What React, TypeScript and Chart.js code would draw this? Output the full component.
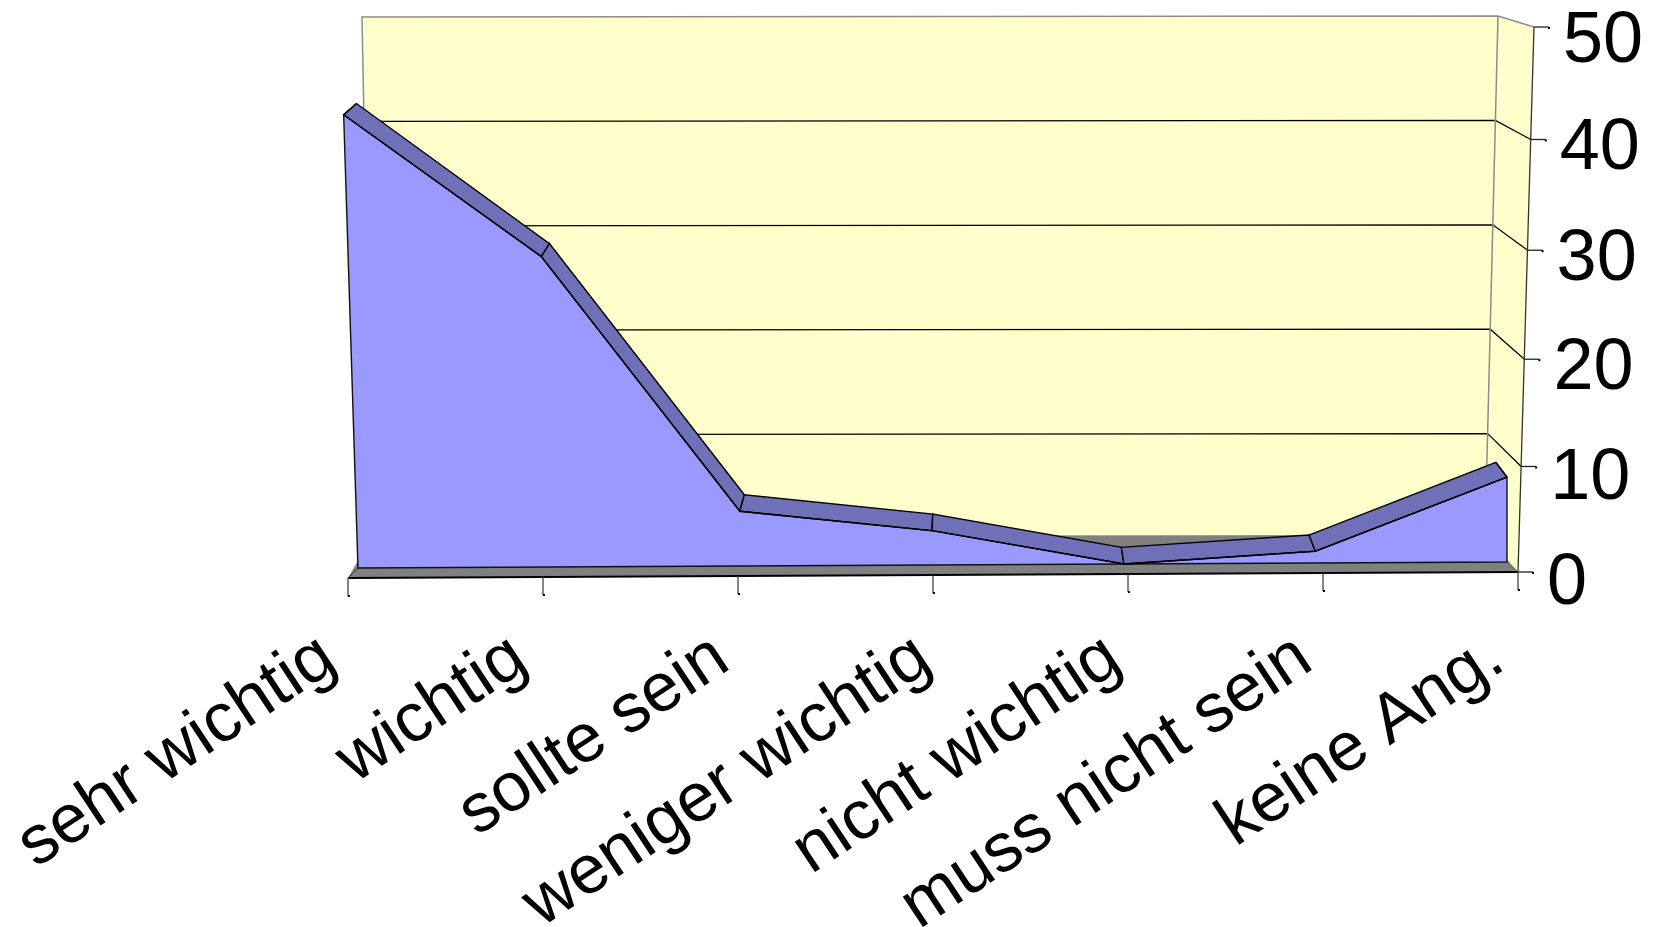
import React, { useEffect, useRef } from "react";
import { Chart, registerables } from "chart.js";

Chart.register(...registerables);

const categories = ["sehr wichtig", "wichtig", "sollte sein", "weniger wichtig", "nicht wichtig", "muss nicht sein", "keine Ang."];
const shareValues = [42.2, 28.9, 5.1, 3.2, 0, 1.1, 7.9];
const yTickStep = 10;
const yMax = 50;

type P = [number, number];
// Perspective planes: corners [t=0 v=0, t=1 v=0, t=0 v=max, t=1 v=max]
const PLANE_WALL: P[] = [[372, 539], [1485, 538], [362, 17], [1498, 16]];
const PLANE_AXIS: P[] = [[348, 578], [1518, 572], [332, 33], [1534, 27]];
const PLANE_FRONT: P[] = [[358, 568], [1507, 562], [341, 31], [1507, 25]];
const PLANE_BACK: P[] = [[370, 550], [1497, 546], [354, 21], [1490, 17]];

// The original's rotated labels do not sit at even offsets from their ticks.
const X_LABEL_SHIFT = [-11, -15, -8, -1, -6, -10, -13];
const Y_LABEL_SHIFT = [4, 5, 2, 2, 2, 7];

const WALL_COLOR = "#FFFFCC";
const AREA_COLOR = "#9999FF";
const BAND_COLOR = "#7070B8";
const FLOOR_COLOR = "#808080";
const EDGE_GREY = "#8c8c8c";
const FONT = "'Liberation Sans', Arial, sans-serif";

const project = (pl: P[], t: number, s: number): P => {
  const lerp = (a: P, b: P, k: number): P => [a[0] + (b[0] - a[0]) * k, a[1] + (b[1] - a[1]) * k];
  return lerp(lerp(pl[0], pl[1], t), lerp(pl[2], pl[3], t), s);
};

const poly = (ctx: CanvasRenderingContext2D, pts: P[], fill?: string, stroke?: string, w = 1.3, close = true) => {
  ctx.beginPath();
  pts.forEach((p, i) => (i ? ctx.lineTo(p[0], p[1]) : ctx.moveTo(p[0], p[1])));
  if (close) ctx.closePath();
  if (fill) {
    ctx.fillStyle = fill;
    ctx.fill();
  }
  if (stroke) {
    ctx.strokeStyle = stroke;
    ctx.lineWidth = w;
    ctx.stroke();
  }
};

const bow = (s: number) => 21.8 * s * (1 - s);

const scene = {
  id: "scene3d",
  afterDatasetsUpdate(chart: any) {
    const meta = chart.getDatasetMeta(0);
    const { x, y } = chart.scales;
    meta.data.forEach((pt: any, i: number) => {
      const t = (x.getPixelForValue(i) - x.left) / (x.right - x.left);
      const s = (y.bottom - y.getPixelForValue(shareValues[i])) / (y.bottom - y.top);
      const p = project(PLANE_FRONT, t, s);
      pt.x = p[0];
      pt.y = p[1];
    });
  },
  beforeDraw(chart: any) {
    const { x, y } = chart.scales;
    const yItems = y.getLabelItems();
    if (!yItems._moved) {
      yItems._moved = true;
      yItems.forEach((it: any, i: number) => {
        const s = y.ticks[i].value / yMax;
        it.options.translation[0] += 16 * s + 1;
        it.options.translation[1] += 8 + bow(s) + Y_LABEL_SHIFT[i];
      });
    }
    const xItems = x.getLabelItems();
    if (!xItems._moved) {
      xItems._moved = true;
      xItems.forEach((it: any, i: number) => {
        it.options.translation[0] += -8 + X_LABEL_SHIFT[i];
        it.options.translation[1] += 45;
      });
    }
  },
  beforeDatasetsDraw(chart: any) {
    const ctx: CanvasRenderingContext2D = chart.ctx;
    const { x, y } = chart.scales;
    const sOf = (v: number) => (y.bottom - y.getPixelForValue(v)) / (y.bottom - y.top);
    const axisPt = (v: number): P => {
      const s = sOf(v);
      const p = project(PLANE_AXIS, 1, s);
      return [p[0], p[1] + bow(s)];
    };
    const tOf = (i: number) => (x.getPixelForValue(i) - x.left) / (x.right - x.left);
    const last = categories.length - 1;

    // Back wall and side wall
    poly(ctx, [project(PLANE_WALL, 0, 0), project(PLANE_WALL, 1, 0), project(PLANE_WALL, 1, 1), project(PLANE_WALL, 0, 1)], WALL_COLOR);
    poly(ctx, [project(PLANE_WALL, 1, 0), axisPt(0), axisPt(yMax), project(PLANE_WALL, 1, 1)], WALL_COLOR);

    // Gridlines
    y.ticks.forEach((tk: any) => {
      if (tk.value === 0 || tk.value === yMax) return;
      const s = sOf(tk.value);
      poly(ctx, [project(PLANE_WALL, 0, s), project(PLANE_WALL, 1, s), axisPt(tk.value)], undefined, "#000", 1.3, false);
    });

    // Wall edges
    poly(ctx, [project(PLANE_WALL, 0, 0), project(PLANE_WALL, 0, 1), project(PLANE_WALL, 1, 1), axisPt(yMax)], undefined, EDGE_GREY, 1.5, false);
    poly(ctx, [project(PLANE_WALL, 1, 0), project(PLANE_WALL, 1, 1)], undefined, EDGE_GREY, 1.5, false);

    // Floor
    const floorBack = (t: number): P => {
      const p = project(PLANE_WALL, t, 0);
      return [p[0], p[1] - 3];
    };
    poly(ctx, [floorBack(0), floorBack(1), project(PLANE_AXIS, 1, 0), project(PLANE_AXIS, 0, 0)], FLOOR_COLOR);
    poly(ctx, [project(PLANE_AXIS, 0, 0), project(PLANE_AXIS, 1, 0)], undefined, "#000", 1.8, false);
    poly(ctx, [project(PLANE_FRONT, 0, 0), project(PLANE_AXIS, 0, 0)], undefined, "#333", 1, false);
    poly(ctx, [project(PLANE_FRONT, 1, 0), project(PLANE_AXIS, 1, 0)], undefined, "#666", 1, false);

    // Value axis line and tick marks
    poly(ctx, [axisPt(yMax), axisPt(0)], undefined, "#333", 1.3, false);
    y.ticks.forEach((tk: any) => {
      const p = axisPt(tk.value);
      poly(ctx, [p, [p[0] + 15, p[1]]], undefined, "#222", 1.3, false);
      ctx.fillStyle = "#000";
      ctx.fillRect(p[0] + 14, p[1], 2, 2);
    });

    // Category tick marks
    categories.forEach((_, i) => {
      const p = project(PLANE_AXIS, tOf(i), 0);
      poly(ctx, [p, [p[0], p[1] + 18]], undefined, "#444", 1.3, false);
      ctx.fillStyle = "#000";
      ctx.fillRect(p[0], p[1] + 17, 2, 2);
    });

    // Front of the area
    const front = categories.map((_, i) => project(PLANE_FRONT, tOf(i), sOf(shareValues[i])));
    const back = categories.map((_, i) => project(PLANE_BACK, tOf(i), sOf(shareValues[i])));
    poly(ctx, [project(PLANE_FRONT, 0, 0), ...front, project(PLANE_FRONT, 1, 0)], AREA_COLOR);
    poly(ctx, [front[0], project(PLANE_FRONT, 0, 0), project(PLANE_FRONT, 1, 0), front[last]], undefined, "#111", 1.4, false);

    // Depth band
    for (let i = 0; i < last; i++) {
      poly(ctx, [front[i], front[i + 1], back[i + 1], back[i]], BAND_COLOR, "#000", 1.4);
    }
    poly(ctx, [front[0], back[0]], undefined, "#000", 1.4, false);
    poly(ctx, [front[last], back[last]], undefined, "#000", 1.4, false);
  },
};

export default function App() {
  const ref = useRef<HTMLCanvasElement>(null);
  useEffect(() => {
    const chart = new Chart(ref.current!, {
      type: "line",
      data: {
        labels: categories,
        datasets: [
          {
            data: shareValues,
            borderColor: "#000",
            borderWidth: 1.4,
            pointRadius: 0,
            fill: false,
            tension: 0,
            clip: false as any,
          },
        ],
      },
      options: {
        animation: false,
        responsive: false,
        events: [],
        layout: { padding: { left: 348, top: 27, right: 0, bottom: 0 } },
        plugins: { legend: { display: false }, tooltip: { enabled: false } },
        scales: {
          x: {
            type: "category",
            offset: false,
            grid: { display: false, drawTicks: false },
            border: { display: false },
            ticks: {
              autoSkip: false,
              minRotation: 33.5,
              maxRotation: 33.5,
              padding: 0,
              color: "#000",
              font: { family: FONT, size: 69 },
            },
            afterFit(s: any) {
              s.height = 355;
              s.paddingLeft = 0;
              s.paddingRight = 0;
            },
          },
          y: {
            position: "right",
            min: 0,
            max: yMax,
            grid: { display: false, drawTicks: false },
            border: { display: false },
            ticks: {
              stepSize: yTickStep,
              padding: 28,
              color: "#000",
              font: { family: FONT, size: 72 },
            },
            afterFit(s: any) {
              s.width = 137;
              s.paddingTop = 0;
              s.paddingBottom = 0;
            },
          },
        },
      },
      plugins: [scene as any],
    });
    return () => chart.destroy();
  }, []);
  return (
    <div style={{ position: "absolute", left: 0, top: 0, width: 1655, height: 927, background: "#fff" }}>
      <canvas ref={ref} width={1655} height={927} style={{ display: "block" }} />
    </div>
  );
}
